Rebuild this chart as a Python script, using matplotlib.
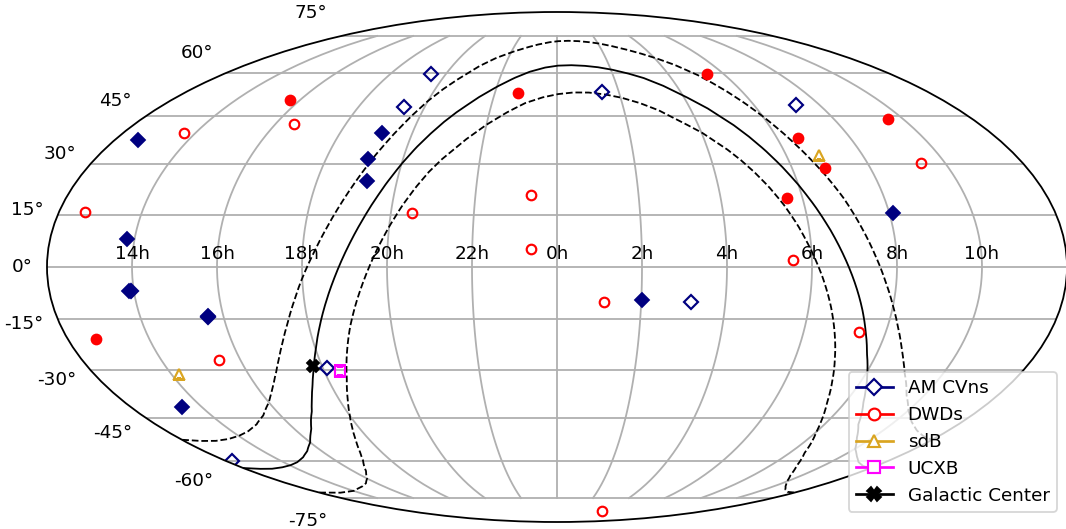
#! /usr/bin/env python
'''
Sky map of compact binaries in equatorial coordinates, Mollweide projection
'''
import numpy as np
import matplotlib
matplotlib.use('Agg')
import matplotlib.pyplot as plt
from matplotlib.lines import Line2D
from matplotlib.transforms import Affine2D

ra_labels = ['14h', '16h', '18h', '20h', '22h', '0h', '2h', '4h', '6h', '8h', '10h']

# RA in hours, Dec in degrees
amcvn_open_ra = [19.45, 19.37, 1.45, 7.30, 3.18, 18.11, 12.20, 13.93, 15.62]
amcvn_open_dec = [59.6, 48.0, 52.9, 48.8, -10.0, -29.4, -60.0, -6.8, -14.5]
amcvn_fill_ra = [12.62, 19.16, 19.10, 19.25, 13.83, 13.89, 15.62, 13.43, 8.10, 2.02]
amcvn_fill_dec = [37.5, 39.5, 31.6, 24.9, 7.9, -6.8, -14.2, -41.6, 15.5, -9.4]
dwd_fill_ra = [15.69, 12.69, 22.74, 5.42, 9.55, 6.57, 6.85, 5.63]
dwd_fill_dec = [50.4, -20.7, 52.7, 59.6, 44.0, 38.0, 28.8, 19.9]
dwd_open_ra = [13.66, 16.54, 12.63, 9.38, 15.45, 20.51, 23.36, 23.39, 5.56, 1.12, 7.35, 3.61]
dwd_open_dec = [39.7, 42.4, 15.7, 30.4, -27.1, 15.6, 20.8, 5.1, 2.1, -10.0, -18.7, -81.5]
sdb_ra = [14.20, 6.87]
sdb_dec = [-31.1, 32.8]
ucxb_ra = [18.40]
ucxb_dec = [-30.4]
gc_ra = [17.77]
gc_dec = [-28.9]

plane_ra = [12.01, 12.5, 13.0, 13.5, 14.0, 14.5, 15.0, 15.5, 16.0, 16.5, 17.0, 17.25, 17.5, 17.75,
            18.0, 18.25, 18.5, 18.75, 19.0, 19.25, 19.5, 19.75, 20.0, 20.25, 20.5, 20.75, 21.0,
            21.5, 22.0, 22.5, 23.0, 23.5, 0.0, 0.5, 1.0, 1.5, 2.0, 2.5, 3.0, 3.5, 4.0, 4.5, 5.0,
            5.25, 5.5, 5.75, 6.0, 6.25, 6.5, 6.75, 7.0, 7.25, 7.5, 7.75, 8.0, 8.25, 8.5, 9.0, 9.5,
            10.0, 10.5, 11.0, 11.5, 11.99]
plane_dec = [-62.5, -62.8, -62.8, -62.3, -61.5, -60.3, -58.6, -56.3, -53.2, -48.8, -42.9, -39.1,
             -34.8, -29.8, -23.9, -17.3, -10.4, -3.3, 3.9, 11.0, 17.8, 24.2, 30.0, 35.0, 39.2,
             42.9, 46.0, 51.0, 54.9, 58.0, 60.3, 61.8, 62.6, 62.8, 62.6, 62.1, 61.2, 59.9, 58.2,
             55.6, 52.0, 47.8, 42.1, 38.5, 34.3, 29.4, 23.8, 17.5, 10.7, 3.4, -3.9, -11.2, -18.4,
             -25.0, -30.3, -35.3, -39.9, -47.0, -51.6, -55.4, -58.0, -60.2, -61.7, -62.5]
outer_ra = [12.01, 12.5, 13.0, 13.5, 14.0, 14.5, 15.0, 15.5, 16.0, 16.25, 16.5, 16.75, 17.0, 17.25,
            17.5, 17.75, 18.0, 18.25, 18.5, 18.75, 19.0, 19.25, 19.5, 19.75, 20.0, 20.25, 20.5,
            21.0, 21.5, 22.0, 22.5, 23.0, 23.5, 0.0, 0.5, 1.0, 1.5, 2.0, 2.5, 3.0, 3.5, 4.0, 4.5,
            5.0, 5.25, 5.5, 5.75, 6.0, 6.25, 6.5, 6.75, 7.0, 7.25, 7.5, 7.75, 8.0, 8.25, 8.5, 8.75,
            9.0, 9.5, 10.0, 10.5, 11.0, 11.5, 11.99]
outer_dec = [-52.3, -52.7, -52.7, -52.1, -51.0, -49.4, -47.2, -44.2, -40.0, -37.3, -34.2, -30.6,
             -26.4, -21.6, -16.2, -10.0, -3.2, 3.6, 10.8, 18.2, 25.6, 32.8, 39.2, 45.0, 50.0, 53.9,
             57.0, 62.2, 65.6, 67.9, 69.6, 71.0, 72.0, 72.6, 72.8, 72.7, 72.3, 71.7, 70.7, 69.4,
             67.8, 65.8, 63.2, 59.4, 56.6, 53.4, 49.5, 45.0, 39.6, 33.6, 27.2, 20.0, 11.5, 3.2,
             -4.4, -11.2, -17.2, -22.4, -27.0, -31.0, -37.6, -42.6, -46.3, -49.0, -51.0, -52.3]
inner_ra = [12.01, 13.0, 14.0, 15.0, 15.5, 16.0, 16.5, 17.0, 17.25, 17.5, 17.75, 18.0, 18.25, 18.5,
            18.75, 19.0, 19.25, 19.5, 19.75, 20.0, 20.25, 20.5, 20.75, 21.0, 21.5, 22.0, 22.5, 23.0,
            23.5, 0.0, 0.5, 1.0, 1.5, 2.0, 2.5, 3.0, 3.5, 4.0, 4.5, 4.75, 5.0, 5.25, 5.5, 5.75, 6.0,
            6.25, 6.5, 6.75, 7.0, 7.25, 7.5, 7.75, 8.0, 8.5, 9.0, 9.5, 10.0, 10.5, 11.0, 11.5, 11.99]
inner_dec = [-72.5, -72.6, -71.8, -69.9, -68.6, -66.6, -63.7, -59.6, -56.8, -53.2, -49.0, -44.3,
             -38.8, -32.6, -24.9, -17.0, -9.6, -2.3, 4.9, 11.6, 17.7, 23.0, 27.6, 31.3, 37.3, 42.2,
             46.1, 49.2, 51.1, 52.3, 52.9, 52.9, 52.3, 51.2, 49.5, 47.1, 43.6, 39.8, 34.6, 31.4,
             27.6, 23.2, 18.0, 11.8, 4.6, -2.8, -10.6, -18.6, -26.4, -33.6, -40.0, -45.0, -49.6,
             -56.8, -61.6, -65.2, -67.8, -69.7, -71.2, -72.2, -72.5]


def lonlat(ra, dec):
    lon = (np.array(ra) * 15. + 180.) % 360. - 180.
    return np.radians(lon), np.radians(np.array(dec))


def DoFig(filename):
    plt.rc('font', size=10.2)
    plt.rc('grid', linewidth=1.0)
    plt.rc('axes', linewidth=1.0)

    fig = plt.figure(figsize=(1066 / 130., 529 / 130.), dpi=130)
    ax = fig.add_axes([47 / 1066., 7 / 529., 1020 / 1066., 510 / 529.], projection='mollweide')
    ax.grid(True)
    ax.set_xticklabels(ra_labels)
    # latitude labels sit a bit further out than the default
    for tick in ax.yaxis.get_major_ticks():
        tick.label1.set_transform(tick.label1.get_transform() + Affine2D().translate(-6, 0))

    x, y = lonlat(plane_ra, plane_dec)
    ax.plot(x, y, 'k-', lw=1)
    x, y = lonlat(outer_ra, outer_dec)
    ax.plot(x, y, 'k--', lw=1)
    x, y = lonlat(inner_ra, inner_dec)
    ax.plot(x, y, 'k--', lw=1)

    x, y = lonlat(amcvn_open_ra, amcvn_open_dec)
    ax.plot(x, y, 'D', ms=5.5, mew=1.2, mec='navy', mfc='none', ls='none')
    x, y = lonlat(amcvn_fill_ra, amcvn_fill_dec)
    ax.plot(x, y, 'D', ms=5.2, mew=1, mec='navy', mfc='navy', ls='none')
    x, y = lonlat(dwd_open_ra, dwd_open_dec)
    ax.plot(x, y, 'o', ms=5.3, mew=1.2, mec='red', mfc='none', ls='none')
    x, y = lonlat(dwd_fill_ra, dwd_fill_dec)
    ax.plot(x, y, 'o', ms=5.5, mew=1, mec='red', mfc='red', ls='none')
    x, y = lonlat(sdb_ra, sdb_dec)
    ax.plot(x, y, '^', ms=5.5, mew=1.2, mec='goldenrod', mfc='none', ls='none')
    x, y = lonlat(ucxb_ra, ucxb_dec)
    ax.plot(x, y, 's', ms=5.5, mew=1.2, mec='magenta', mfc='none', ls='none')
    x, y = lonlat(gc_ra, gc_dec)
    ax.plot(x, y, 'X', ms=6.5, color='k', ls='none')

    handles = [Line2D([], [], color='navy', marker='D', mfc='white', ms=6.5, mew=1.2, label='AM CVns'),
               Line2D([], [], color='red', marker='o', mfc='white', ms=6.5, mew=1.2, label='DWDs'),
               Line2D([], [], color='goldenrod', marker='^', mfc='white', ms=6.5, mew=1.2, label='sdB'),
               Line2D([], [], color='magenta', marker='s', mfc='white', ms=6.5, mew=1.2, label='UCXB'),
               Line2D([], [], color='k', marker='X', ms=7.5, label='Galactic Center')]
    ax.legend(handles=handles, loc='lower right', bbox_to_anchor=(1057 / 1066., 17 / 529.),
              bbox_transform=fig.transFigure, borderaxespad=0, labelspacing=0.48)
    fig.savefig(filename, dpi=130)


if __name__ == '__main__':
    DoFig('out.png')
